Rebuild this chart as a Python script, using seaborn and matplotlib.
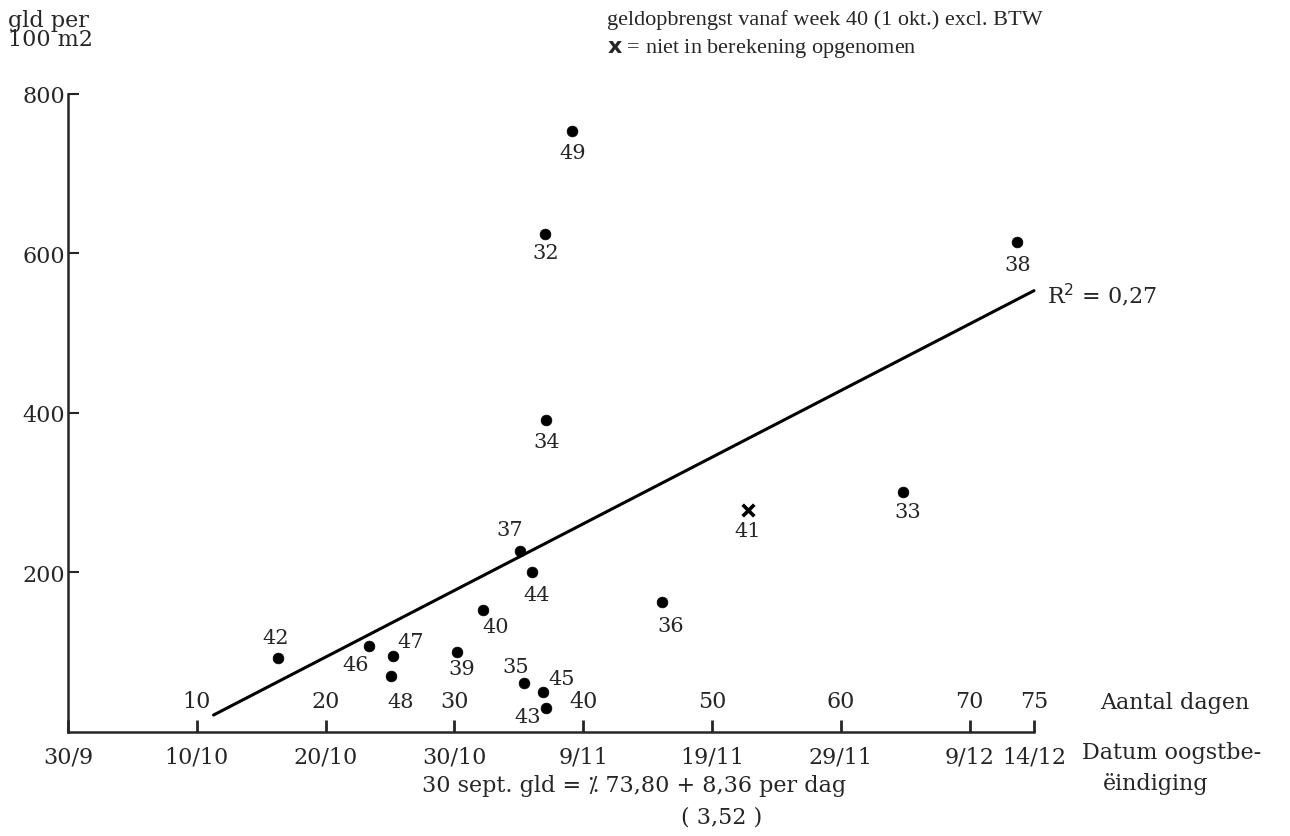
import matplotlib
matplotlib.use("Agg")
import matplotlib.pyplot as plt
import seaborn as sns
import pandas as pd

# proefnummers en waarden (dagen na 30 sept., gld per 100 m2)
nummers = [49, 32, 38, 34, 33, 37, 44, 36, 40, 42, 46, 47, 48, 39, 35, 45, 43]
dagen = [39.1, 37.0, 73.7, 37.1, 64.8, 35.1, 36.0, 46.1, 32.2, 16.3, 23.4, 25.2,
         25.1, 30.2, 35.4, 36.9, 37.1]
gld = [753, 624, 614, 391, 300, 226, 200, 162, 152, 92, 107, 95, 70, 100, 61, 50, 29]

# niet in berekening opgenomen
nummer_x = [41]
dagen_x = [52.8]
gld_x = [278]

# regressielijn: gld = -73,80 + 8,36 per dag
intercept = -73.80
helling = 8.36
lijn_dagen = [11.3, 75.0]

dag_ticks = [10, 20, 30, 40, 50, 60, 70, 75]
datum_ticks = [0, 10, 20, 30, 40, 50, 60, 70, 75]
datum_labels = ['30/9', '10/10', '20/10', '30/10', '9/11', '19/11', '29/11', '9/12', '14/12']
y_ticks = [200, 400, 600, 800]

# label offsets in pixels (dx, dy omlaag)
offsets = {49: (1, 21), 32: (1, 18), 38: (0, 22), 34: (1, 22), 33: (5, 19),
           37: (-10, -22), 44: (5, 22), 36: (9, 23), 40: (13, 16), 42: (-2, -21),
           46: (-14, 18), 47: (18, -14), 48: (9, 26), 39: (5, 17), 35: (-8, -16),
           45: (18, -13), 43: (-18, 8), 41: (0, 21)}

sns.set_style("ticks")
plt.rcParams['font.family'] = ['DejaVu Serif', 'DejaVu Sans']
FS = 16
KOP = ['Liberation Serif', 'DejaVu Sans']

df = pd.DataFrame({'dag': dagen, 'gld': gld, 'nr': nummers})
lijn = pd.DataFrame({'dag': lijn_dagen,
                     'gld': [intercept + helling * d for d in lijn_dagen]})

fig = plt.figure(figsize=(12.9, 8.37), dpi=100)
ax = fig.add_axes([68 / 1290, 1 - 732.5 / 837, (1034 - 68) / 1290, (732.5 - 95) / 837])

sns.lineplot(ax=ax, data=lijn, x='dag', y='gld', color='black', linewidth=2.2, clip_on=False)
sns.scatterplot(ax=ax, data=df, x='dag', y='gld', color='black', s=60,
                edgecolor='black', linewidth=0.5, clip_on=False, zorder=3)
sns.scatterplot(ax=ax, x=dagen_x, y=gld_x, marker='x', color='black', s=70,
                linewidth=2.6, clip_on=False, zorder=3)

for n, d, g in zip(nummers + nummer_x, dagen + dagen_x, gld + gld_x):
    dx, dy = offsets[n]
    ax.annotate(str(n), (d, g), xytext=(dx, -dy), textcoords='offset pixels',
                ha='center', va='center', fontsize=15, annotation_clip=False)

ax.set_xlim(0, 75)
ax.set_ylim(0, 800)
ax.set_xlabel('')
ax.set_ylabel('')
sns.despine(ax=ax)
for s in ['left', 'bottom']:
    ax.spines[s].set_linewidth(1.8)

ax.set_xticks(datum_ticks)
ax.set_xticklabels(datum_labels, fontsize=FS)
ax.tick_params(axis='x', direction='in', length=9, width=2, pad=10)
ax.set_yticks(y_ticks)
ax.set_yticklabels([str(v) for v in y_ticks], fontsize=FS)
ax.tick_params(axis='y', direction='in', length=8, width=1.5, pad=2)

# aantal dagen boven de as
for d in dag_ticks:
    ax.annotate(str(d), (d, 0), xytext=(0, 30), textcoords='offset pixels',
                ha='center', va='center', fontsize=FS, annotation_clip=False)

fig.text(8 / 1290, 1 - 10 / 837, 'gld per\n100 m2', ha='left', va='top',
         fontsize=FS, linespacing=0.85)
fig.text(607 / 1290, 1 - 20 / 837, 'geldopbrengst vanaf week 40 (1 okt.) excl. BTW',
         ha='left', va='center', fontsize=FS, family=KOP)
fig.text(607 / 1290, 1 - 49 / 837, r'$\mathbf{x}$ = niet in berekening opgenomen',
         ha='left', va='center', fontsize=FS, family=KOP)
fig.text(1047 / 1290, 1 - 295 / 837, r'R$^{2}$ = 0,27', ha='left', va='center',
         fontsize=FS)
fig.text(1100 / 1290, 1 - 703 / 837, 'Aantal dagen', ha='left', va='center', fontsize=FS)
fig.text(1082 / 1290, 1 - 753 / 837, 'Datum oogstbe-', ha='left', va='center', fontsize=FS)
fig.text(1103 / 1290, 1 - 784 / 837, 'ëindiging', ha='left', va='center', fontsize=FS)
fig.text(422 / 1290, 1 - 786 / 837, '30 sept. gld = ⁒ 73,80 + 8,36 per dag',
         ha='left', va='center', fontsize=FS)
fig.text(722 / 1290, 1 - 818 / 837, '( 3,52 )', ha='center', va='center', fontsize=FS)

fig.savefig('out.png', dpi=100)
